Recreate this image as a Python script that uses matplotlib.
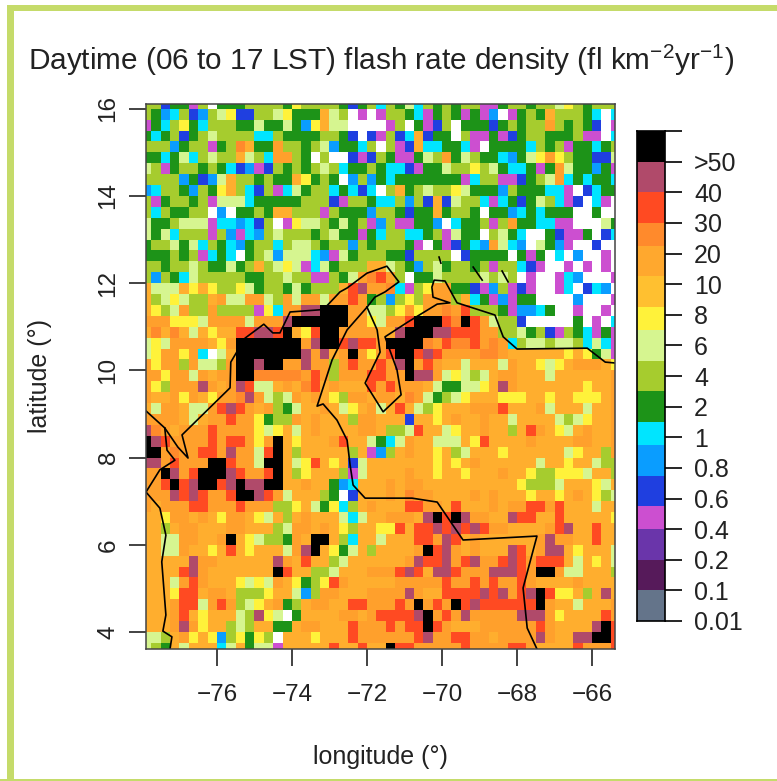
import numpy as np
import matplotlib
matplotlib.use('Agg')
import matplotlib.pyplot as plt
from matplotlib.colors import ListedColormap
from matplotlib.patches import Rectangle

# flash rate class of each cell, one letter per cell
# west part of the grid (north to south)
grid_west = [
    "LLbGGpLWGGGLLLLGYLLLLGbGLc", "LGacLbaLPYbbLLPYGGGoPLWpWp", "pGcLYGcLLLGGPGGPGaYoPPWWWW",
    "GcGLbGLPLLLLccLGGGGLLGbWbp", "LLLaGLLpGLDoGGOLLGLPaGGcLW", "GGcGPcLPLLoPLcOOLGWLWWbpbL",
    "PLpGLLGLGcbapbLGLGLPLcGGLG", "LLLLaGbaPoLLGLGGoYGLGWaLaG", "acLLGaLGYoLcbLpcPGLLcGcbcW",
    "LpGLLGLpPPPcGGGGGLLLbpLLGc", "LcLGGLLWaWGGLGooLLLpLGGGaL", "PGGLPPPpccacbLWpYPPLGPGLpa",
    "PGPcLLLpLapcaLPLLLGLPGGpGc", "GLLPGPcLGcaGLLcLPPLGLLaLGL", "GGGLGLpcGcWGLPaPPPcapPGLLL",
    "LLGLLPLGGPGLoLPYPpcPGLLLoo", "LaLGcPLLLLLGGLLPLLppLGPODR", "oPPPoYoYLLYPGLLGPGLLLoRMOO",
    "oLPYPLLoOPPOOPLOPOOPOOROGL", "oYLPOLLOLLLLpYcOOMMKKKOOPP", "OOOYYYPOOOOPOOOMKKKKKKOOYP",
    "oDoDoPoYooRRMMRKoYRKKOOOOo", "PYPOOOOoYOKKKKKKKOMKKRMRRO", "PYOOYOcWPoKKKKKKKMOMoOKOYO",
    "OYOOLOPPLOKKMKKOOMOOLOROOR", "OOYOOPOoOOKKDDDDDOROLOOORR", "OYLOOOMOoOMRPPoOoDRoOoooRO",
    "OooOYOoYOODMOPLPOoOoYLOOoO", "oPOOoPPORMROoOLGPooOoPYoOP", "OOOOoPoOOROOYGLLOoOoooLOOo",
    "MDOoOOOROOOOYPYoPoOooooOOo", "KMROOOOROROOYOKoYoooORooPG"[:10] + "ROYOKoYoooORooPG",
    "KKODOORROMOOPRKoLoooooLopa", "MMOROOOKKROOPKKoPYRoYobPoo", "OOKMORKKKMROORKoLYoooLpPoo",
    "OORKRMKKRMKMMKKooOooGacooo", "OOOMRMROORKKMROPoooLGWbooo", "OoOOORROOOROOOLLYoPGYcLoOo",
    "ooYOOoOoYOOoYPoLoOoooPcPoo", "ooLoOOoooOOoooLPOOoOoYLooY", "ooPPOOooOKoYPLLGOoKKoLcooP",
    "ooPPOooYoRoYoooPOMKoYGPoLo", "oooooMOOooooooMOoRooLPoooo", "ooooRMOoooooooKRooLLPoooOO",
    "oooPOROoooYPYPOoYGLYROoooo", "oooYRRoOOoLLLYooPaLOOoooOO", "oooORRPOROLPYoOGLoOOooRRO"[:25] + "O",
    "oooORoYoooPLMYPWGoooooOoOR"[:20] + "oOOoOR", "oooOMOYooLPLooGGoOOoooROOO",
    "PPLoOYoYaLYGYLWoooYoooROOO", "PLGoPooocPoGPPpoooooRooRoo",
]
# east part of the grid (north to south)
grid_east = [
    "LGPcLGLGLLppGLLGLLPYLGLLL", "LLGcpGLGpGpaWpGLGoLLLGcWc", "pLWGpbLWGGGbGLGLLOLGLGbWp",
    "LbcobGGWLppGpbGLLGGGLppWc", "LpboccGGcpWGGGGcLGLpGGcGL", "GppGPLOGPLGGcaGPYOYLGGbbP",
    "ccbpGGPLLYLPGccGpGOPGGaGp", "cGGGGGGGpcLLppbGLPOcGcGGc", "LoGLPLLYPGGGaLGGGccpWbcGG",
    "cLaLbobPLLcpcGbGPLcpbWcpW", "LGbGGoGLLGWGGacGcGGGWWGWW", "LppGGaWcGGLpLOGGccppWWWPG",
    "LLccGLpPGGWLPGcWWGbppGWbc", "LLGpWGpbGcaOPcaWPGapWWbWW", "GGbLLLLWbGGGGWGpGWcWaWWpW",
    "PLGaLPGLLGLpLLcbpWWpWpWpW", "OLWGGPLLLLPLPLWpWWpcaWWWp", "DcpLYOOGGbpaLpbpWWpcWbcaW",
    "aLYLOOOLocGpapGGWWWWaWWWp", "LYOYOODORLLLGpaacGWWpWWpW", "OORKKKRDKROPLLbWWWWWGWpWc",
    "oMKKKMMRRROOLLPGLbpLGcpGp", "KKKKDORDDRODOcLPPLPPLcPcp", "RKKRMROOOODDOooooooYoYGPp",
    "OMKOROooPoooPOooYPYoOOOoY", "OOKMMOPYPLPoOOoooPooooooO", "ROOOoPGGPPYoMOoooooooYooO",
    "OoDOPGLPYoooYYYooYooYYYoO", "oRoPLYoooOOORoooOPoooPooO", "oobooYoOooOooPooooPLPYooO",
    "LLPRooPYooOooLoROoYPoOooO", "cPOooPPPoYRooooOooooOOooO", "LoOooYoLPoooYooooooPYooLO",
    "oooooYoYoOooooooPooYooPLL", "ooOooYooYoooOooYLLYYYPooL", "OoOOooooooooooYLLLPoooYPo",
    "OoDOOooooOoOoooYooYoOoYLP", "ooRROOoRoooOoOORRORoooPoo", "OOOoMKRKMOOooMRRooRooooooY"[:20] + "ooooY",
    "YRoRRMRMRMROOooooORMooRoo", "oooRROMRoOooooooOMOOooRoo", "oooOKRMOoOoooMRoOMMoYoooP",
    "ooOMRRMORMOORMRORRRoPoYoP", "ORMRoMMROOOMMMROKKOPPoooL", "oOOOOOROOROROOROooooOoooo",
    "OOMOooRRRRMRMORMKRYYoLoMo", "OROKOROKRMRRRRRRKOooPoooO", "RRRMKOROMOOOOOMMMOYooooRO",
    "RORRKROoooOOOOOOROoooooMKR"[:20] + "ooMKR", "OOORMOORROOoOOOOMOooMMKKR", "KRROOOOOROOOORROooooROOOR",
]

level_keys = "gdupbacGLPYoODRMK"
level_colors = ['#64748a', '#561a5a', '#6a35aa', '#cc4fd0', '#1f3fe0', '#0a9dff', '#00e5ff',
                '#1d9318', '#a6cc2e', '#d6f590', '#fff23a', '#ffc030', '#ffa82e', '#ff8a2c',
                '#ff4a22', '#b04a6a', '#000000']
# the map cells of the three orange classes look softer than the bar blocks
map_oranges = {'o': '#ffae2e', 'O': '#ffa02c', 'D': '#ff8a2c'}
# how many of the 64 colour bar slices each level takes, bottom to top
level_slices = [4, 4, 4, 3, 4, 4, 3, 4, 4, 4, 3, 4, 4, 3, 4, 4, 4]
bar_labels = ['0.01', '0.1', '0.2', '0.4', '0.6', '0.8', '1', '2', '4', '6', '8', '10', '20', '30', '40', '>50', '']

lon_edges = np.r_[-77.89, np.arange(-77.75, -65.4, 0.25), -65.39]
lat_edges = np.r_[16.11, np.arange(16, 3.7, -0.25), 3.61]

# coast and border lines, lon then lat
north_lon = [-77.89, -77.39, -77.04, -76.77, -76.93, -75.65, -75.63, -75.52, -75.25, -74.75, -74.51, -74.32, -74.05,
             -73.25, -73.07, -72.72, -72.53, -72.00, -71.47, -71.15, -71.52, -71.79, -72.00]
north_lat = [9.07, 8.68, 8.24, 7.99, 8.52, 9.60, 10.19, 10.35, 10.74, 11.06, 10.86, 10.86, 11.34,
             11.39, 11.48, 11.80, 11.89, 12.23, 12.39, 12.03, 11.80, 11.68, 11.45]
border_lon = [-72.00, -72.53, -72.93, -73.33, -73.17, -72.80, -72.53, -72.45, -72.37, -72.05, -70.80, -70.13, -69.44,
              -67.47, -67.84, -67.73, -67.47]
border_lat = [11.45, 10.93, 10.24, 9.18, 9.23, 8.86, 8.40, 7.83, 7.37, 7.07, 7.07, 6.98, 6.11,
              6.20, 5.01, 4.09, 3.61]
lake_lon = [-72.00, -71.73, -71.65, -72.05, -71.57, -71.09, -71.20, -71.52, -70.91, -70.13, -69.79, -70.24, -70.27,
            -70.21, -69.92, -69.60, -68.59, -68.37, -68.00, -66.13, -65.65, -65.39]
lake_lat = [11.45, 10.93, 10.42, 9.71, 9.05, 9.44, 10.01, 10.77, 11.11, 11.52, 11.55, 11.68, 11.91,
            12.07, 12.05, 11.55, 11.27, 10.77, 10.49, 10.51, 10.19, 10.17]
pacific_lon = [-77.39, -77.33, -77.12, -77.52, -77.89, -77.52, -77.36, -77.47, -77.36, -77.44, -77.20, -77.25]
pacific_lat = [8.68, 8.17, 7.94, 7.72, 7.21, 6.84, 6.22, 5.61, 4.39, 4.02, 3.89, 3.61]
island_lon = [[-70.08, -70.03], [-69.17, -68.93], [-68.40, -68.24]]
island_lat = [[12.60, 12.46], [12.37, 12.07], [12.28, 12.03]]

plt.rcParams['font.family'] = 'Liberation Sans'
plt.rcParams['mathtext.fontset'] = 'custom'
plt.rcParams['mathtext.rm'] = 'Liberation Sans'
plt.rcParams['mathtext.it'] = 'Liberation Sans'
plt.rcParams['mathtext.default'] = 'regular'
W, H = 777, 781
fig = plt.figure(figsize=(W / 100, H / 100), dpi=100, facecolor='white')

# green frame round the page (left, top and bottom only)
for x0, y0, w, h in ((7, 0, 7, H - 5), (7, H - 11, W - 7, 6), (0, 0, W, 2)):
    fig.patches.append(Rectangle((x0 / W, y0 / H), w / W, h / H, transform=fig.transFigure,
                                 fc='#c5db6a', ec='none'))

ax = fig.add_axes([146 / W, 1 - 649 / H, (615 - 146) / W, (649 - 104) / H])
codes = np.array([[("W" + level_keys).index(c) for c in a + b] for a, b in zip(grid_west, grid_east)])
map_colors = ['#ffffff'] + [map_oranges.get(k, c) for k, c in zip(level_keys, level_colors)]
ax.pcolormesh(lon_edges, lat_edges, codes, cmap=ListedColormap(map_colors), vmin=-0.5, vmax=17.5)
for lons, lats in ((north_lon, north_lat), (border_lon, border_lat), (lake_lon, lake_lat), (pacific_lon, pacific_lat)):
    ax.plot(lons, lats, color='black', lw=1.2)
for lons, lats in zip(island_lon, island_lat):
    ax.plot(lons, lats, color='black', lw=1.2)
ax.set_xlim(lon_edges[0], lon_edges[-1])
ax.set_ylim(lat_edges[-1], lat_edges[0])
ax.set_xticks(np.arange(-76, -65, 2))
ax.set_xticklabels(['\u221276', '\u221274', '\u221272', '\u221270', '\u221268', '\u221266'])
ax.set_yticks(np.arange(4, 17, 2))
ax.set_yticklabels(['4', '6', '8', '10', '12', '14', '16'], rotation=90, va='center')
ax.tick_params(length=12, width=1.2, labelsize=17.5, color='#222222', labelcolor='#222222')
ax.tick_params(axis='x', pad=13)
ax.tick_params(axis='y', pad=7)
for s in ax.spines.values():
    s.set_color('#444444')
    s.set_linewidth(1.1)

fig.text(28 / W, 1 - 60 / H, 'Daytime (06 to 17 LST) flash rate density (fl km$^{-2}$yr$^{-1}$)',
         fontsize=21.4, color='#222222', va='center', ha='left')
fig.text(380 / W, 1 - 757 / H, 'longitude (\u00b0)', fontsize=18, color='#222222', ha='center', va='center')
fig.text(40 / W, 1 - 376 / H, 'latitude (\u00b0)', fontsize=18, color='#222222', ha='center', va='center', rotation=90)

# colour bar, one block per level
cax = fig.add_axes([637 / W, 1 - 621 / H, (665 - 637) / W, (621 - 131) / H])
bottoms = np.r_[0, np.cumsum(level_slices)[:-1]]
cax.bar(np.zeros(len(level_slices)), level_slices, bottom=bottoms, width=1, color=level_colors, align='edge')
cax.set_xlim(0, 1)
cax.set_ylim(0, 64)
cax.set_xticks([])
cax.yaxis.tick_right()
cax.set_yticks(np.arange(0, 65, 4))
cax.set_yticklabels(bar_labels)
cax.tick_params(axis='y', length=12, width=1.2, labelsize=18, pad=9, labelcolor='#222222')
for s in cax.spines.values():
    s.set_linewidth(1.2)

fig.savefig('out.png', dpi=100)
